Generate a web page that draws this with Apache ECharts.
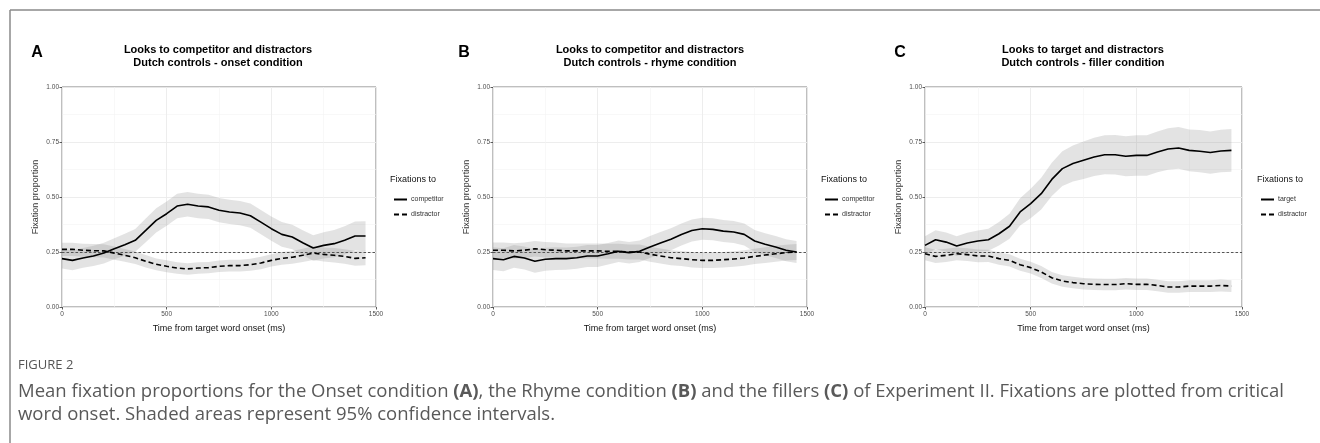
<!DOCTYPE html>
<html>
<head>
<meta charset="utf-8">
<script src="https://cdn.jsdelivr.net/npm/echarts@6/dist/echarts.min.js"></script>
<style>
html,body{margin:0;padding:0;background:#fff;}
#chart{width:1320px;height:443px;}
</style>
</head>
<body>
<div id="chart"></div>
<script>
// time from target word onset (ms)
const time = [0,50,100,150,200,250,300,350,400,450,500,550,600,650,700,750,800,850,900,950,1000,1050,1100,1150,1200,1250,1300,1350,1400,1450];

// Panel A: onset condition
const aCompetitor = [0.220,0.212,0.223,0.232,0.245,0.265,0.283,0.303,0.348,0.394,0.424,0.459,0.467,0.459,0.455,0.440,0.432,0.427,0.415,0.386,0.356,0.330,0.318,0.292,0.268,0.280,0.288,0.303,0.323,0.323];
const aCompetitorCI = [0.045,0.045,0.045,0.046,0.047,0.048,0.050,0.052,0.054,0.055,0.055,0.056,0.056,0.056,0.055,0.055,0.055,0.055,0.055,0.055,0.055,0.056,0.056,0.057,0.058,0.060,0.062,0.064,0.066,0.067];
const aDistractor = [0.262,0.262,0.258,0.256,0.255,0.245,0.235,0.224,0.208,0.194,0.185,0.177,0.173,0.177,0.179,0.185,0.188,0.188,0.192,0.200,0.212,0.221,0.226,0.235,0.245,0.239,0.235,0.230,0.221,0.224];
const aDistractorCI = [0.030,0.030,0.030,0.030,0.030,0.030,0.029,0.028,0.028,0.027,0.027,0.026,0.026,0.026,0.026,0.026,0.027,0.027,0.027,0.028,0.028,0.029,0.029,0.030,0.031,0.032,0.033,0.033,0.034,0.034];

// Panel B: rhyme condition
const bCompetitor = [0.220,0.215,0.230,0.223,0.208,0.217,0.220,0.220,0.224,0.232,0.232,0.242,0.253,0.247,0.253,0.273,0.291,0.308,0.330,0.348,0.356,0.353,0.345,0.341,0.330,0.300,0.285,0.273,0.258,0.250];
const bCompetitorCI = [0.052,0.052,0.052,0.052,0.052,0.052,0.052,0.051,0.050,0.050,0.050,0.049,0.049,0.049,0.049,0.050,0.050,0.050,0.050,0.050,0.050,0.050,0.050,0.050,0.050,0.050,0.050,0.050,0.050,0.050];
const bDistractor = [0.258,0.258,0.255,0.258,0.265,0.260,0.258,0.255,0.255,0.255,0.255,0.253,0.253,0.250,0.250,0.240,0.232,0.224,0.220,0.215,0.212,0.212,0.215,0.218,0.223,0.230,0.236,0.242,0.247,0.250];
const bDistractorCI = [0.035,0.035,0.035,0.035,0.035,0.035,0.035,0.034,0.034,0.034,0.034,0.034,0.034,0.034,0.034,0.034,0.034,0.034,0.034,0.035,0.035,0.035,0.035,0.035,0.035,0.035,0.036,0.036,0.036,0.036];

// Panel C: filler condition
const cTarget = [0.280,0.306,0.295,0.277,0.291,0.300,0.306,0.333,0.367,0.432,0.470,0.515,0.580,0.629,0.652,0.667,0.682,0.692,0.692,0.685,0.689,0.689,0.705,0.718,0.723,0.712,0.708,0.702,0.709,0.712];
const cTargetCI = [0.042,0.043,0.044,0.045,0.046,0.048,0.050,0.053,0.057,0.062,0.067,0.072,0.076,0.079,0.082,0.085,0.087,0.089,0.090,0.091,0.092,0.092,0.093,0.094,0.095,0.095,0.096,0.096,0.097,0.097];
const cDistractor = [0.242,0.230,0.235,0.242,0.238,0.232,0.232,0.220,0.212,0.192,0.179,0.159,0.133,0.118,0.111,0.106,0.103,0.102,0.102,0.106,0.103,0.103,0.098,0.091,0.091,0.095,0.095,0.095,0.098,0.095];
const cDistractorCI = [0.030,0.030,0.030,0.029,0.029,0.029,0.028,0.028,0.028,0.027,0.027,0.027,0.026,0.026,0.026,0.026,0.026,0.026,0.026,0.026,0.026,0.026,0.026,0.026,0.026,0.027,0.027,0.027,0.027,0.027];

const chanceLevel = 0.25;
const xTicks = [0, 1500, 500];
const yTicks = [0, 1, 0.25];

const FONT = 'Liberation Sans, Arial, sans-serif';
const CAPFONT = 'Open Sans, sans-serif';
const chart = echarts.init(document.getElementById('chart'), null, {renderer: 'canvas'});

const gridPos = [
  {left: 62, top: 87, width: 314, height: 220},
  {left: 493, top: 87, width: 314, height: 220},
  {left: 925, top: 87, width: 317, height: 220}
];

function xAxis(i) {
  return {
    gridIndex: i, type: 'value', min: xTicks[0], max: xTicks[1], interval: xTicks[2],
    axisLine: {show: false},
    axisTick: {show: true, length: 2.5, lineStyle: {color: '#333', width: 0.8}},
    axisLabel: {fontSize: 6.5, color: '#4d4d4d', margin: 4, fontFamily: FONT, formatter: v => String(v)},
    splitLine: {show: true, lineStyle: {color: '#ebebeb', width: 0.9}},
    minorTick: {show: false, splitNumber: 2},
    minorSplitLine: {show: true, lineStyle: {color: '#f3f3f3', width: 0.6}},
    name: 'Time from target word onset (ms)', nameLocation: 'middle', nameGap: 17,
    nameTextStyle: {fontSize: 9, color: '#111', fontFamily: FONT}
  };
}
function yAxis(i) {
  return {
    gridIndex: i, type: 'value', min: yTicks[0], max: yTicks[1], interval: yTicks[2],
    axisLine: {show: false},
    axisTick: {show: true, length: 2.5, lineStyle: {color: '#333', width: 0.8}},
    axisLabel: {fontSize: 6.5, color: '#4d4d4d', margin: 3, fontFamily: FONT,
      formatter: v => v.toFixed(2)},
    splitLine: {show: true, lineStyle: {color: '#ebebeb', width: 0.9}},
    minorTick: {show: false, splitNumber: 2},
    minorSplitLine: {show: true, lineStyle: {color: '#f3f3f3', width: 0.6}},
    name: 'Fixation proportion', nameLocation: 'middle', nameGap: 22,
    nameTextStyle: {fontSize: 9, color: '#333', fontFamily: FONT}
  };
}

function ribbon(i, mean, ci, name) {
  return {
    type: 'custom', name: name, xAxisIndex: i, yAxisIndex: i, silent: true, z: 1,
    data: time.map((t, k) => [t, mean[k] - ci[k], mean[k] + ci[k]]),
    renderItem: function (params, api) {
      if (params.dataIndexInside !== 0) return null;
      const n = params.dataInsideLength;
      const pts = [];
      for (let k = 0; k < n; k++) pts.push(api.coord([api.value(0, k), api.value(2, k)]));
      for (let k = n - 1; k >= 0; k--) pts.push(api.coord([api.value(0, k), api.value(1, k)]));
      return {type: 'polygon', shape: {points: pts}, style: {fill: 'rgba(140,140,140,0.24)'}};
    }
  };
}
function line(i, mean, name, dashed, withRef) {
  const s = {
    type: 'line', name: name, xAxisIndex: i, yAxisIndex: i, z: 5,
    data: time.map((t, k) => [t, mean[k]]),
    symbol: 'none', smooth: false, silent: true,
    lineStyle: {color: '#000', width: 1.6, type: dashed ? [5, 3] : 'solid'},
    itemStyle: {color: '#000'}
  };
  if (withRef) {
    s.markLine = {
      silent: true, symbol: 'none', animation: false, z: 3,
      label: {show: false},
      lineStyle: {color: '#555', width: 1, type: [2.5, 2]},
      data: [{yAxis: chanceLevel}]
    };
  }
  return s;
}

const series = [
  ribbon(0, aCompetitor, aCompetitorCI, 'ciA1'),
  ribbon(0, aDistractor, aDistractorCI, 'ciA2'),
  line(0, aCompetitor, 'competitor', false, true),
  line(0, aDistractor, 'distractor', true, false),
  ribbon(1, bCompetitor, bCompetitorCI, 'ciB1'),
  ribbon(1, bDistractor, bDistractorCI, 'ciB2'),
  line(1, bCompetitor, 'competitor', false, true),
  line(1, bDistractor, 'distractor', true, false),
  ribbon(2, cTarget, cTargetCI, 'ciC1'),
  ribbon(2, cDistractor, cDistractorCI, 'ciC2'),
  line(2, cTarget, 'target', false, true),
  line(2, cDistractor, 'distractor', true, false)
];

function legend(left, names) {
  return {
    left: left, top: 191, orient: 'vertical', itemWidth: 13, itemHeight: 6, itemGap: 8,
    selectedMode: false, data: names,
    itemStyle: {opacity: 0},
    textStyle: {fontSize: 7, color: '#333', fontFamily: FONT, padding: [0, 0, 0, -1]}
  };
}

function txt(x, y, text, size, opts) {
  return {
    type: 'text', x: x, y: y, silent: true,
    style: Object.assign({text: text, fontSize: size, fontFamily: FONT, fill: '#000',
      align: 'left', verticalAlign: 'middle'}, opts || {})
  };
}

const titles = [
  ['Looks to competitor and distractors', 'Dutch controls - onset condition', 218, 'A', 37],
  ['Looks to competitor and distractors', 'Dutch controls - rhyme condition', 650, 'B', 464],
  ['Looks to target and distractors', 'Dutch controls - filler condition', 1083, 'C', 900]
];
const graphics = [
  {type: 'line', shape: {x1: 10, y1: 10, x2: 1320, y2: 10}, style: {stroke: '#8a8a8a', lineWidth: 1.5}, silent: true},
  {type: 'line', shape: {x1: 10, y1: 10, x2: 10, y2: 443}, style: {stroke: '#8a8a8a', lineWidth: 1.5}, silent: true}
];
titles.forEach(t => {
  graphics.push(txt(t[4], 53, t[3], 16, {fontWeight: 'bold', align: 'center'}));
  graphics.push(txt(t[2], 50, t[0], 11, {fontWeight: 'bold', align: 'center'}));
  graphics.push(txt(t[2], 62.5, t[1], 11, {fontWeight: 'bold', align: 'center'}));
});
[390, 821, 1257].forEach(x => graphics.push(txt(x, 180, 'Fixations to', 9, {fill: '#111'})));
graphics.push(txt(18, 365, 'FIGURE 2', 13, {fontFamily: CAPFONT, fill: '#555'}));
graphics.push(txt(18, 392, 'Mean fixation proportions for the Onset condition {b|(A)}, the Rhyme condition {b|(B)} and the fillers {b|(C)} of Experiment II. Fixations are plotted from critical', 18.5,
  {fontFamily: CAPFONT, fill: '#595959', rich: {b: {fontWeight: 'bold', fontSize: 18.5, fontFamily: CAPFONT, fill: '#595959'}}}));
graphics.push(txt(18, 415, 'word onset. Shaded areas represent 95% confidence intervals.', 18.5,
  {fontFamily: CAPFONT, fill: '#595959'}));

chart.setOption({
  animation: false,
  backgroundColor: '#fff',
  textStyle: {fontFamily: FONT},
  grid: gridPos.map(g => Object.assign({show: true, borderColor: '#7f7f7f', borderWidth: 1, backgroundColor: 'transparent', containLabel: false}, g)),
  xAxis: [0, 1, 2].map(xAxis),
  yAxis: [0, 1, 2].map(yAxis),
  legend: [legend(388, ['competitor', 'distractor']), legend(819, ['competitor', 'distractor']), legend(1255, ['target', 'distractor'])],
  series: series,
  graphic: graphics
});
</script>
</body>
</html>
